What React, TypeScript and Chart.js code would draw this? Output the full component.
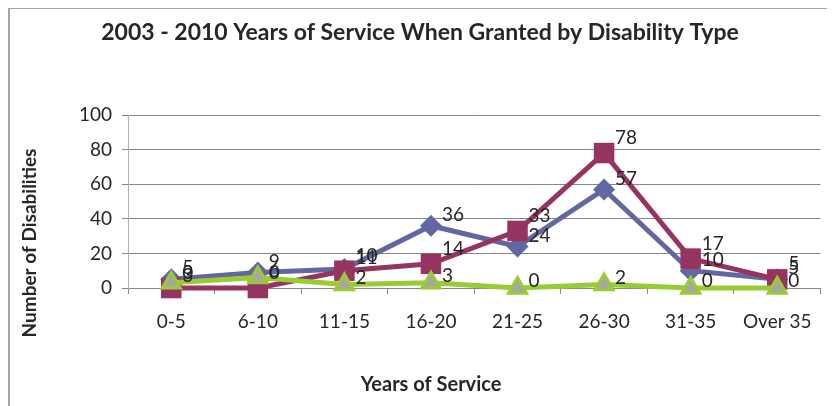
import React, { useEffect, useRef } from "react";
import { Chart, registerables } from "chart.js";

Chart.register(...registerables);

const categories = ["0-5", "6-10", "11-15", "16-20", "21-25", "26-30", "31-35", "Over 35"];
const seriesBlue = [5, 9, 11, 36, 24, 57, 10, 5];
const seriesRed = [0, 0, 10, 14, 33, 78, 17, 5];
const seriesGreen = [3, 6, 2, 3, 0, 2, 0, 0];
const yMin = 0;
const yMax = 100;
const yStep = 20;

const chartTitle = "2003 - 2010 Years of Service When Granted by Disability Type";
const xTitle = "Years of Service";
const yTitle = "Number of Disabilities";

const FONT = "Lato, 'Open Sans', sans-serif";
const TEXT = "#262626";
const GRID = "#868686";

const labelDy: Record<string, number> = { blue: -11, red: -15, green: -7 };

const decorPlugin = {
  id: "decor",
  beforeDraw(chart: any) {
    const ctx = chart.ctx;
    ctx.save();
    ctx.strokeStyle = "#a6a6a6";
    ctx.lineWidth = 2;
    ctx.strokeRect(1, 0, 2000, 2000);
    ctx.restore();
  },
  afterDraw(chart: any) {
    const ctx = chart.ctx;
    ctx.save();
    ctx.fillStyle = TEXT;
    ctx.textAlign = "center";
    ctx.textBaseline = "middle";
    ctx.font = `bold 23px ${FONT}`;
    ctx.fillText(chartTitle, 412, 25);
    ctx.font = `bold 20px ${FONT}`;
    ctx.fillText(xTitle, 423, 377);
    ctx.font = `bold 19px ${FONT}`;
    ctx.translate(22, 235);
    ctx.rotate(-Math.PI / 2);
    ctx.fillText(yTitle, 0, 0);
    ctx.restore();
  },
  afterDatasetsDraw(chart: any) {
    const ctx = chart.ctx;
    ctx.save();
    ctx.fillStyle = TEXT;
    ctx.textAlign = "left";
    ctx.textBaseline = "middle";
    ctx.font = `19px ${FONT}`;
    chart.data.datasets.forEach((ds: any, i: number) => {
      const meta = chart.getDatasetMeta(i);
      const dy = labelDy[ds.key] ?? -10;
      meta.data.forEach((pt: any, j: number) => {
        ctx.fillText(String(ds.data[j]), pt.x + 11, pt.y + dy);
      });
    });
    ctx.restore();
  },
};

export default function App() {
  const ref = useRef<HTMLCanvasElement | null>(null);
  useEffect(() => {
    if (!ref.current) return;
    const chart = new Chart(ref.current, {
      type: "line",
      data: {
        labels: categories,
        datasets: [
          {
            key: "blue",
            label: "Series 1",
            data: seriesBlue,
            borderColor: "#6367a1",
            backgroundColor: "#6367a1",
            borderWidth: 5,
            pointStyle: "rectRot",
            pointRadius: 11,
            pointBorderWidth: 0,
            pointBackgroundColor: "#6367a1",
            order: 3,
            clip: false,
          } as any,
          {
            key: "red",
            label: "Series 2",
            data: seriesRed,
            borderColor: "#953461",
            backgroundColor: "#953461",
            borderWidth: 5,
            pointStyle: "rect",
            pointRadius: 14.5,
            pointBorderWidth: 0,
            pointBackgroundColor: "#953461",
            order: 2,
            clip: false,
          } as any,
          {
            key: "green",
            label: "Series 3",
            data: seriesGreen,
            borderColor: "#99cc33",
            backgroundColor: "#99cc33",
            borderWidth: 5,
            pointStyle: "triangle",
            pointRadius: 10.5,
            pointBorderWidth: 3,
            pointBorderColor: "#99cc33",
            pointBackgroundColor: "#a6a6a6",
            order: 1,
            clip: false,
          } as any,
        ],
      },
      options: {
        animation: false,
        responsive: false,
        layout: { padding: { top: 107, right: 10, left: 0, bottom: 0 } },
        plugins: {
          legend: { display: false },
          tooltip: { enabled: false },
          title: { display: false },
        },
        elements: { line: { tension: 0 } },
        scales: {
          x: {
            type: "category",
            offset: true,
            afterFit: (s: any) => {
              s.height = 118;
            },
            grid: {
              offset: true,
              drawOnChartArea: false,
              drawTicks: true,
              tickLength: 6,
              color: GRID,
            },
            border: { display: true, color: GRID, width: 1 },
            ticks: {
              color: TEXT,
              font: { family: FONT, size: 19 },
              padding: 16,
              maxRotation: 0,
              autoSkip: false,
            },
          },
          y: {
            min: yMin,
            max: yMax,
            afterFit: (s: any) => {
              s.width = 120;
            },
            ticks: {
              stepSize: yStep,
              color: TEXT,
              font: { family: FONT, size: 19 },
              padding: 10,
            },
            grid: {
              color: GRID,
              drawTicks: true,
              tickLength: 6,
            },
            border: { display: true, color: "#b0b0b0", width: 1 },
          },
        },
      } as any,
      plugins: [decorPlugin],
    });
    return () => chart.destroy();
  }, []);
  return (
    <div style={{ width: 827, height: 398 }}>
      <canvas ref={ref} width={827} height={398} style={{ display: "block" }} />
    </div>
  );
}
